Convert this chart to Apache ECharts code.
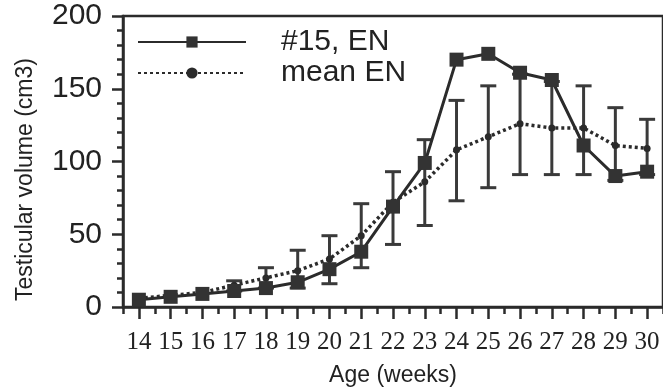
<!DOCTYPE html>
<html>
<head>
<meta charset="utf-8">
<script src="https://cdn.jsdelivr.net/npm/echarts@6/dist/echarts.min.js"></script>
<style>
  html, body { margin: 0; padding: 0; background: #fff; }
  #chart { width: 663px; height: 392px; }
</style>
</head>
<body>
<div id="chart"></div>
<script>
// values
const weeks = [14, 15, 16, 17, 18, 19, 20, 21, 22, 23, 24, 25, 26, 27, 28, 29, 30];
const en15 = [5, 7, 9, 11, 13, 17, 26, 38, 69, 99, 170, 174, 161, 156, 111, 90, 93];
const meanEN = [6, 8, 10, 15, 20, 25, 33, 49, 72, 86, 108, 117, 126, 123, 123, 111, 109];
const sdLow = [null, null, null, 11, 13, 13, 16, 27, 43, 56, 73, 82, 91, 91, 91, 87, 91];
const sdHigh = [null, null, null, 18, 27, 39, 49, 71, 93, 115, 142, 152, 160, 155, 152, 137, 129];
const halfTicks = [13.5, 14.5, 15.5, 16.5, 17.5, 18.5, 19.5, 20.5, 21.5, 22.5, 23.5, 24.5, 25.5, 26.5, 27.5, 28.5, 29.5, 30.5];

const ink = '#2b2b2b';
const chart = echarts.init(document.getElementById('chart'));

const errData = [];
weeks.forEach((w, i) => {
  if (sdLow[i] != null) errData.push([w, sdLow[i], sdHigh[i]]);
});

chart.setOption({
  animation: false,
  grid: {
    left: 123, top: 16, width: 546, height: 292,
    show: true, borderColor: ink, borderWidth: 2.5, backgroundColor: 'transparent'
  },
  legend: {
    orient: 'vertical',
    left: 132,
    top: 22,
    itemWidth: 108,
    itemHeight: 14,
    itemGap: 1,
    selectedMode: false,
    textStyle: {
      fontFamily: 'Liberation Sans', fontSize: 30, color: '#222',
      lineHeight: 30, padding: [0, 0, 0, 30]
    },
    data: ['#15, EN', 'mean EN']
  },
  xAxis: [{
    type: 'value',
    min: 13.5,
    max: 30.5,
    name: 'Age (weeks)',
    nameLocation: 'middle',
    nameGap: 57,
    nameTextStyle: { fontFamily: 'Liberation Sans', fontSize: 23, color: '#222' },
    splitLine: { show: false },
    axisLine: { lineStyle: { color: ink, width: 2.5 } },
    axisTick: { customValues: weeks, length: 12, lineStyle: { color: ink, width: 2.5 } },
    axisLabel: {
      customValues: weeks, margin: 23,
      fontFamily: 'Liberation Serif', fontSize: 25, color: '#222'
    }
  }, {
    type: 'value',
    min: 13.5,
    max: 30.5,
    position: 'bottom',
    splitLine: { show: false },
    axisLine: { show: false },
    axisLabel: { show: false },
    axisTick: { customValues: halfTicks, length: 7, lineStyle: { color: ink, width: 2.5 } }
  }],
  yAxis: {
    type: 'value',
    min: 0,
    max: 200,
    interval: 50,
    name: 'Testicular volume (cm3)',
    nameLocation: 'middle',
    nameGap: 86,
    nameTextStyle: {
      fontFamily: 'Liberation Sans', fontSize: 23, color: '#222',
      padding: [0, 36, 0, 0]
    },
    splitLine: { show: false },
    axisLine: { show: true, lineStyle: { color: ink, width: 2.5 } },
    axisTick: { show: true, length: 11, lineStyle: { color: ink, width: 2.5 } },
    minorTick: { show: true, splitNumber: 5, length: 6, lineStyle: { color: ink, width: 2.5 } },
    axisLabel: {
      margin: 21, padding: [12, 0, 0, 0],
      fontFamily: 'Liberation Sans', fontSize: 30, color: '#222'
    }
  },
  series: [{
    type: 'custom',
    name: 'sd',
    z: 1,
    silent: true,
    data: errData,
    renderItem: (params, api) => {
      const x = api.value(0);
      const lo = api.coord([x, api.value(1)]);
      const hi = api.coord([x, api.value(2)]);
      const half = 8;
      const style = { stroke: '#3a3a3a', lineWidth: 3 };
      return {
        type: 'group',
        children: [
          { type: 'line', shape: { x1: lo[0], y1: lo[1], x2: hi[0], y2: hi[1] }, style },
          { type: 'line', shape: { x1: lo[0] - half, y1: lo[1], x2: lo[0] + half, y2: lo[1] }, style },
          { type: 'line', shape: { x1: hi[0] - half, y1: hi[1], x2: hi[0] + half, y2: hi[1] }, style }
        ]
      };
    }
  }, {
    type: 'line',
    name: 'mean EN',
    z: 2,
    data: weeks.map((w, i) => [w, meanEN[i]]),
    symbol: 'circle',
    symbolSize: 7,
    itemStyle: { color: ink },
    lineStyle: { color: ink, width: 3.5, type: [3, 3] }
  }, {
    type: 'line',
    name: '#15, EN',
    z: 3,
    data: weeks.map((w, i) => [w, en15[i]]),
    symbol: 'rect',
    symbolSize: 14,
    itemStyle: { color: '#333' },
    lineStyle: { color: ink, width: 3 }
  }]
});
</script>
</body>
</html>
